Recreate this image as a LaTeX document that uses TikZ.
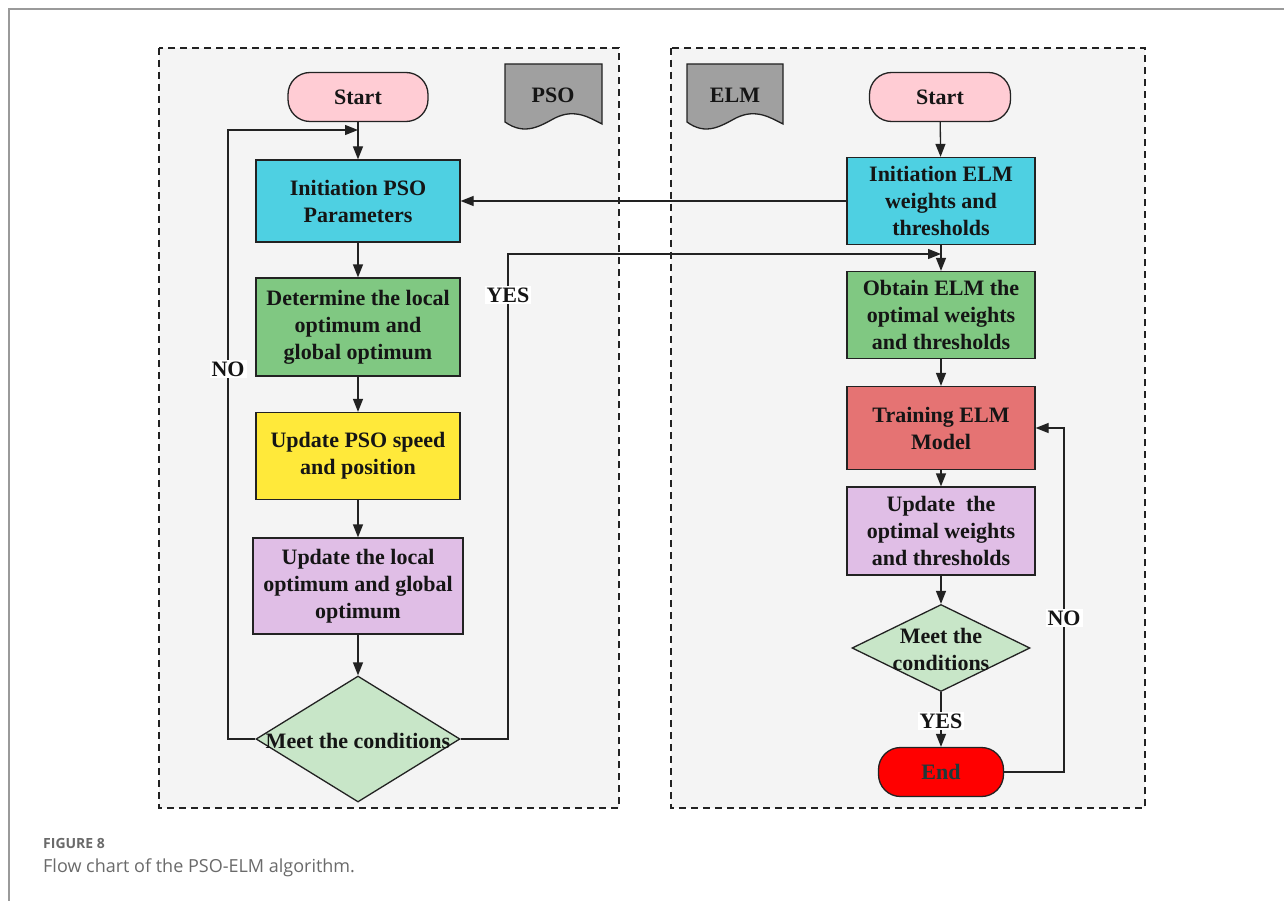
\documentclass[tikz,border=0pt]{standalone}
\usepackage{fontspec}
\setmainfont{Liberation Serif}
\newfontfamily\capfont{Open Sans}
\usetikzlibrary{shapes.geometric,arrows.meta}
\definecolor{bgpanel}{HTML}{F4F4F4}
\definecolor{startpink}{HTML}{FFCCD4}
\definecolor{cyanbox}{HTML}{4ED0E2}
\definecolor{greenbox}{HTML}{80C882}
\definecolor{yellowbox}{HTML}{FFE93A}
\definecolor{lilacbox}{HTML}{E0BEE6}
\definecolor{diamondgreen}{HTML}{C8E6C8}
\definecolor{trainred}{HTML}{E57373}
\definecolor{endred}{HTML}{FF0000}
\definecolor{endtext}{HTML}{1F3A3A}
\definecolor{docgray}{HTML}{A0A0A0}
\definecolor{linecol}{HTML}{222222}
\definecolor{textcol}{HTML}{151515}
\definecolor{capgray}{HTML}{6A6A6A}
\definecolor{framegray}{HTML}{9A9A9A}
\tikzset{
  txt/.style={font=\fontsize{22}{27}\selectfont\bfseries, text=textcol},
  panel/.style={draw=linecol, dashed, dash pattern=on 7pt off 5pt, line width=1.3pt, fill=bgpanel},
  proc/.style={txt, draw=linecol, line width=1.3pt, rectangle, align=center, inner sep=0pt},
  term/.style={txt, draw=linecol, line width=1.3pt, rectangle, rounded corners=22pt, align=center, minimum width=140pt, minimum height=49pt},
  dec/.style={draw=linecol, line width=1.3pt, diamond, fill=diamondgreen, inner sep=0pt},
  dectext/.style={txt, align=center, inner sep=0pt},
  arr/.style={draw=linecol, line width=1.3pt, -{Triangle[length=13pt,width=10pt]}},
  lbl/.style={txt, fill=white, font=\fontsize{22}{24}\selectfont\bfseries, inner sep=2pt},
  doc/.style={draw=linecol, line width=1.3pt, fill=docgray}
}
\begin{document}
\begin{tikzpicture}[x=1pt,y=-1pt]
\useasboundingbox (0,0) rectangle (1284,901);
\fill[white] (0,0) rectangle (1284,901);
% outer frame
\draw[framegray, line width=1.2pt] (9,901) -- (9,9) -- (1284,9);
% panels
\draw[panel] (159,48) rectangle (619,808);
\draw[panel] (671,48) rectangle (1145,808);
% document shapes
\draw[doc] (505,64) -- (602,64) -- (602,124) .. controls (590,118) and (575,108) .. (555,118) .. controls (540,126) and (525,136) .. (505,122) -- cycle;
\node[txt] (psodoc) at (553,95) {PSO};
\draw[doc] (687,64) -- (783,64) -- (783,124) .. controls (771,118) and (756,108) .. (736,118) .. controls (721,126) and (706,136) .. (687,122) -- cycle;
\node[txt] (elmdoc) at (735,95) {ELM};
% left column
\node[term, fill=startpink] (s1) at (358,97) {Start};
\node[proc, fill=cyanbox, minimum width=204pt, minimum height=82pt] (p1) at (358,201) {Initiation PSO\\Parameters};
\node[proc, fill=greenbox, minimum width=204pt, minimum height=98pt] (p2) at (358,327) {Determine the local\\optimum and\\global optimum};
\node[proc, fill=yellowbox, minimum width=204pt, minimum height=87pt] (p3) at (358,456) {Update PSO speed\\and position};
\node[proc, fill=lilacbox, minimum width=210pt, minimum height=96pt] (p4) at (358,586) {Update the local\\optimum and global\\optimum};
\node[dec, minimum width=204pt, minimum height=126pt] (d1) at (358,739) {};
\node[dectext] (d1t) at (358,741) {Meet the conditions};
% right column
\node[term, fill=startpink, minimum width=141pt] (s2) at (940,97) {Start};
\node[proc, fill=cyanbox, minimum width=188pt, minimum height=87pt] (q1) at (941,201) {Initiation ELM\\weights and\\thresholds};
\node[proc, fill=greenbox, minimum width=188pt, minimum height=87pt] (q2) at (941,315) {Obtain ELM the\\optimal weights\\and thresholds};
\node[proc, fill=trainred, minimum width=188pt, minimum height=83pt] (q3) at (941,428) {Training ELM\\Model};
\node[proc, fill=lilacbox, minimum width=188pt, minimum height=88pt] (q4) at (941,531) {Update~~the\\optimal weights\\and thresholds};
\node[dec, minimum width=178pt, minimum height=87pt] (d2) at (941,648) {};
\node[dectext] (d2t) at (941,649) {Meet the\\conditions};
\node[term, fill=endred, minimum width=125pt] (e) at (941,772) {\textcolor{endtext}{End}};
% coordinates
\coordinate (loopin) at (358,130);
\coordinate (noleft) at (228,739);
\coordinate (nolefttop) at (228,130);
\coordinate (yesr) at (508,739);
\coordinate (yesrtop) at (508,254);
\coordinate (yesin) at (941,254);
\coordinate (noright) at (1064,772);
\coordinate (norighttop) at (1064,428);
% left connectors
\draw[arr] (s1) -- (p1);
\draw[arr] (p1) -- (p2);
\draw[arr] (p2) -- (p3);
\draw[arr] (p3) -- (p4);
\draw[arr] (p4) -- (d1);
\draw[arr] (d1.west) -- (noleft) -- (nolefttop) -- (loopin);
\node[lbl] (nolbl1) at (228,369) {NO};
\draw[arr] (d1.east) -- (yesr) -- (yesrtop) -- (yesin);
\node[lbl] (yeslbl1) at (508,295) {YES};
% right connectors
\draw[arr] (s2) -- (q1);
\draw[arr] (q1.west) -- (p1.east);
\draw[arr] (q1) -- (q2);
\draw[arr] (q2) -- (q3);
\draw[arr] (q3) -- (q4);
\draw[arr] (q4) -- (d2);
\draw[arr] (d2) -- (e);
\node[lbl] (yeslbl2) at (941,721) {YES};
\draw[arr] (e.east) -- (noright) -- (norighttop) -- (q3.east);
\node[lbl] (nolbl2) at (1064,618) {NO};
% caption
\node[anchor=base west, font=\capfont\bfseries\fontsize{14}{16}\selectfont, text=capgray, inner sep=0pt] (figlbl) at (43,848) {FIGURE 8};
\node[anchor=base west, font=\capfont\fontsize{18}{20}\selectfont, text=capgray, inner sep=0pt] (caption) at (43,872) {Flow chart of the PSO-ELM algorithm.};
\end{tikzpicture}
\end{document}
